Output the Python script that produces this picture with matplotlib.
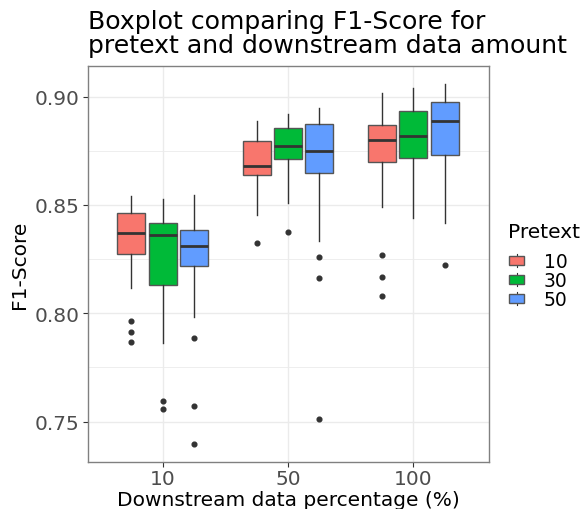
import numpy as np
import matplotlib.pyplot as plt
from matplotlib.patches import Patch, Rectangle
from matplotlib.lines import Line2D
from matplotlib.legend_handler import HandlerBase

groups = ['10', '50', '100']
pretext = ['10', '30', '50']
colors = ['#F8766D', '#00BA38', '#619CFF']

# per pretext: one row per downstream group -> [whisker low, q1, median, q3, whisker high]
box_p10 = [[0.8115, 0.8274, 0.8372, 0.8463, 0.8543],
           [0.8455, 0.8640, 0.8680, 0.8794, 0.8888],
           [0.8489, 0.8697, 0.8802, 0.8871, 0.9015]]
box_p30 = [[0.7865, 0.8131, 0.8363, 0.8417, 0.8528],
           [0.8511, 0.8712, 0.8771, 0.8854, 0.8918],
           [0.8442, 0.8715, 0.8818, 0.8932, 0.9038]]
box_p50 = [[0.7985, 0.8220, 0.8312, 0.8383, 0.8548],
           [0.8335, 0.8648, 0.8748, 0.8874, 0.8948],
           [0.8417, 0.8729, 0.8886, 0.8975, 0.9057]]

out_p10 = [[0.7966, 0.7914, 0.7868], [0.8323], [0.8268, 0.8169, 0.8080]]
out_p30 = [[0.7597, 0.7560], [0.8375], []]
out_p50 = [[0.7886, 0.7571, 0.7395], [0.8260, 0.8162, 0.7511], [0.8225]]

boxes = [box_p10, box_p30, box_p50]
outliers = [out_p10, out_p30, out_p50]


class BoxKey(HandlerBase):
    # ggplot style key: small box with whisker stubs
    def create_artists(self, legend, orig, xd, yd, width, height, fontsize, trans):
        x0, y0 = -xd, -yd
        line = Line2D([x0 + width / 2] * 2, [y0, y0 + height], color='#333333',
                      linewidth=0.8, transform=trans)
        rect = Rectangle((x0, y0 + height * 0.2), width, height * 0.6,
                         facecolor=orig.get_facecolor(), edgecolor='#555555',
                         linewidth=1.0, transform=trans)
        return [line, rect]


fig = plt.figure(figsize=(5.85, 5.1), dpi=100)
ax = fig.add_axes([87.5 / 585, 1 - 462.7 / 510, 401 / 585, 395.4 / 510])

ax.set_xlim(0.4, 3.6)
ax.set_ylim(0.7315, 0.9140)

dodge = [-0.25, 0.0, 0.25]
for k in range(3):
    stats = []
    for g in range(3):
        lo, q1, med, q3, hi = boxes[k][g]
        stats.append(dict(whislo=lo, q1=q1, med=med, q3=q3, whishi=hi,
                          fliers=outliers[k][g]))
    pos = [g + 1 + dodge[k] for g in range(3)]
    ax.bxp(stats, positions=pos, widths=0.225, patch_artist=True,
           showcaps=False, manage_ticks=False,
           boxprops=dict(facecolor=colors[k], edgecolor='#555555', linewidth=1.0),
           whiskerprops=dict(color='#333333', linewidth=1.0),
           medianprops=dict(color='#333333', linewidth=2.0, solid_capstyle='butt'),
           flierprops=dict(marker='o', markersize=3.4, markerfacecolor='#333333',
                           markeredgecolor='#333333'))

ax.set_xticks([1, 2, 3])
ax.set_xticklabels(groups)
ax.set_yticks([0.75, 0.80, 0.85, 0.90])
ax.set_yticklabels(['0.75', '0.80', '0.85', '0.90'])
ax.set_yticks([0.775, 0.825, 0.875], minor=True)
ax.grid(True, which='major', color='#EBEBEB', linewidth=1.0)
ax.grid(True, which='minor', axis='y', color='#EBEBEB', linewidth=0.6)
ax.set_axisbelow(True)
ax.tick_params(axis='both', which='major', labelsize=14.5, labelcolor='#4D4D4D',
               color='#333333', length=3.5, width=0.8, pad=2)
ax.tick_params(axis='both', which='minor', length=0)
for s in ax.spines.values():
    s.set_color('#808080')
    s.set_linewidth(1.0)

ax.set_xlabel('Downstream data percentage (%)', fontsize=14.5, labelpad=1)
ax.set_ylabel('F1-Score', fontsize=14.5, labelpad=4)

fig.text(88 / 585, 1 - 10.5 / 510,
         'Boxplot comparing F1-Score for\npretext and downstream data amount',
         fontsize=18.1, ha='left', va='top', linespacing=0.95)

fig.text(508 / 585, 1 - 233 / 510, 'Pretext', fontsize=14.5, ha='left', va='center')
handles = [Patch(facecolor=c) for c in colors]
leg = fig.legend(handles, pretext, loc='upper left',
                 bbox_to_anchor=(509 / 585, 1 - 253 / 510), frameon=False,
                 fontsize=13.5, handlelength=0.8, handleheight=0.75,
                 handletextpad=1.05, labelspacing=0.0, borderpad=0,
                 borderaxespad=0, handler_map={Patch: BoxKey()})

fig.savefig('out.png', dpi=100)
